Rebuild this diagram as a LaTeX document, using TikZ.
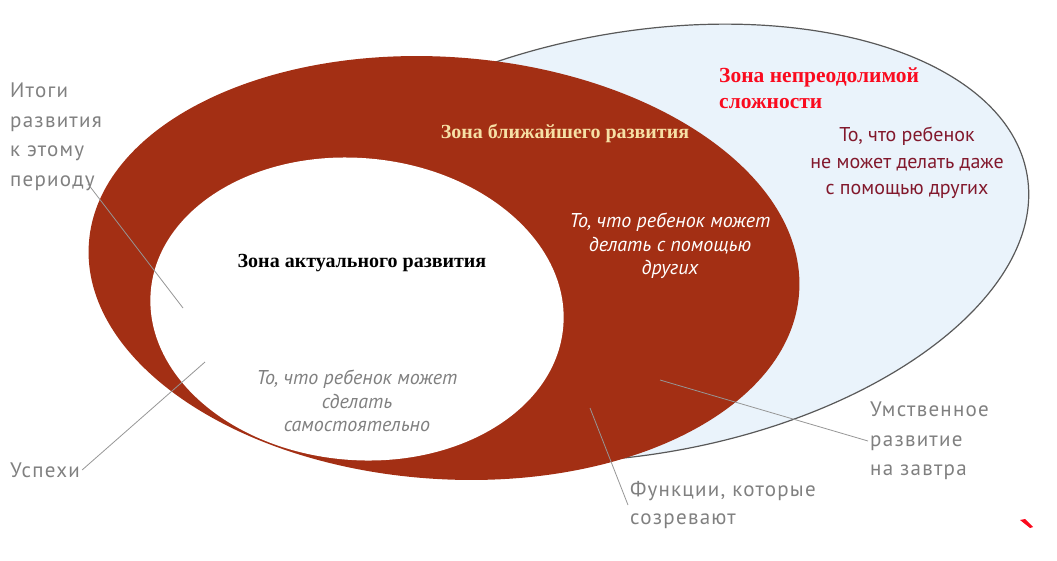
\documentclass[tikz,border=0pt]{standalone}
\usepackage{fontspec}
\setmainfont{Liberation Serif}
\newfontfamily\notefont[LetterSpace=6]{PT Sans}
\newfontfamily\insidefont{PT Sans}
\definecolor{zpdred}{RGB}{163,47,20}
\definecolor{zonesky}{RGB}{234,243,251}
\definecolor{notegrey}{RGB}{128,128,128}
\definecolor{leadgrey}{RGB}{150,150,150}
\definecolor{wheatish}{RGB}{246,224,165}
\definecolor{winered}{RGB}{130,24,44}
\definecolor{brightred}{RGB}{250,10,30}

\begin{document}
\begin{tikzpicture}[x=1pt,y=-1pt]
        \tikzset{
            zonetitle/.style={font=\bfseries\fontsize{20}{26}\selectfont, align=left, inner sep=1pt},
            note/.style={font=\notefont\fontsize{21}{29.5}\selectfont, text=notegrey, align=left, inner sep=2pt},
            inside/.style={font=\insidefont\itshape\fontsize{20}{23.5}\selectfont, align=center, inner sep=1pt},
            leader/.style={draw=leadgrey, line width=0.8pt}
        }
        \useasboundingbox (0,0) rectangle (1057,560);
        % the three zones
        \draw [fill=zonesky, draw=black!65, line width=1.2pt, rotate around={10:(638,243)}]
            (638,243) ellipse [x radius=395pt, y radius=211pt];
        \fill [zpdred, rotate around={-4:(444,268)}] (444,268) ellipse [x radius=356pt, y radius=211pt];
        \fill [white, rotate around={-5:(357,309)}] (357,309) ellipse [x radius=207pt, y radius=151pt];
        \fill [brightred] (1020,520) -- (1025,519) -- (1033,527) -- (1030,528) -- cycle;
        % zone titles
        \node [zonetitle, text=brightred, anchor=west, font=\bfseries\fontsize{21.5}{26}\selectfont] (hard) at (718,88)
            {Зона непреодолимой\\сложности};
        \node [zonetitle, text=wheatish]               (zpd)    at (565,133) {Зона ближайшего развития};
        \node [zonetitle]                              (actual) at (362,263) {Зона актуального развития};
        % texts inside the zones
        \node [inside, font=\insidefont\fontsize{20}{26.5}\selectfont, text=winered] (cannot) at (907,163)
            {То, что ребенок\\не может делать даже\\с помощью других};
        \node [inside, text=white]     (withhelp) at (670,246) {То, что ребенок может\\делать с помощью\\других};
        \node [inside, text=notegrey]  (alone)    at (357,401) {То, что ребенок может\\сделать\\самостоятельно};
        % notes round the picture
        \node [note, anchor=west] (itogi)   at (8,137)   {Итоги\\развития\\к этому\\периоду};
        \node [note, anchor=west] (uspekhi) at (8,470)   {Успехи};
        \node [note, anchor=west] (umstv)   at (868,441) {Умственное\\развитие\\на завтра};
        \node [note, anchor=west, font=\notefont\fontsize{21}{28}\selectfont] (funkcii) at (628,505) {Функции, которые\\созревают};
        \coordinate (itogitip)   at (183,308);
        \coordinate (uspekhitip) at (205,362);
        \coordinate (umstvtip)   at (660,380);
        \coordinate (funkciitip) at (590,408);
        \draw [leader] ([xshift=-16pt,yshift=9pt]itogi.south east) -- (itogitip);
        \draw [leader] (uspekhi.east) -- (uspekhitip);
        \draw [leader] (umstv.west) -- (umstvtip);
        \draw [leader] (funkcii.west) -- (funkciitip);
    \end{tikzpicture}
\end{document}
